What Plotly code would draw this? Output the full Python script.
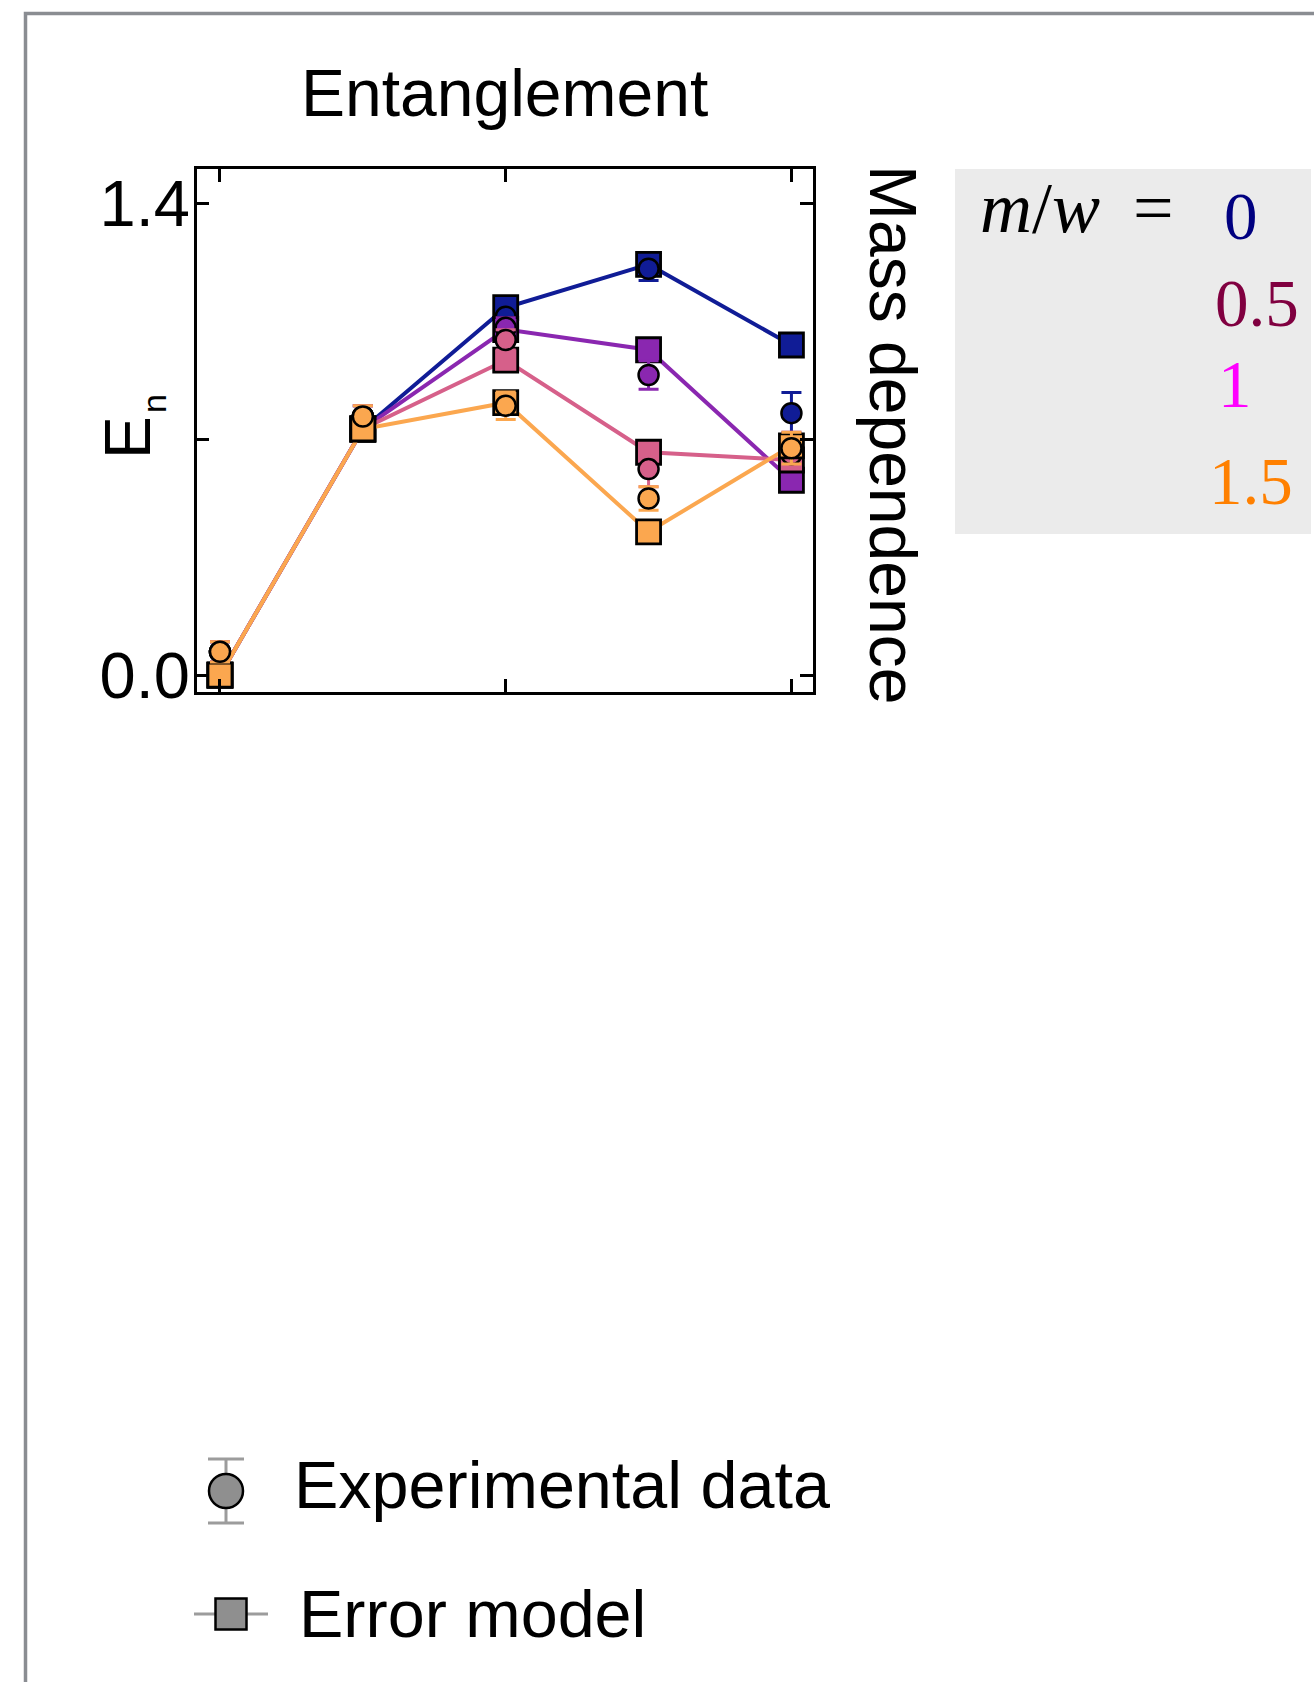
import plotly.graph_objects as go

# ---------------------------------------------------------------- data
steps = [1, 2, 3, 4, 5]
mass_labels = ["0", "0.5", "1", "1.5"]

# error-model curves (squares joined by lines)
model_m0 = [0.0, 0.73, 1.09, 1.218, 0.979]
model_m05 = [0.0, 0.73, 1.025, 0.965, 0.578]
model_m1 = [0.0, 0.73, 0.934, 0.661, 0.638]
model_m15 = [0.0, 0.73, 0.808, 0.425, 0.680]

# experimental points (circles) and their uncertainties
exp_m0 = [0.069, 0.767, 1.063, 1.205, 0.777]
exp_m05 = [0.069, 0.767, 1.030, 0.890, 0.690]
exp_m1 = [0.069, 0.767, 0.994, 0.611, 0.655]
exp_m15 = [0.069, 0.767, 0.799, 0.524, 0.673]

err_m0 = [0.030, 0.032, 0.030, 0.035, 0.061]
err_m05 = [0.030, 0.032, 0.030, 0.042, 0.030]
err_m1 = [0.030, 0.032, 0.030, 0.052, 0.030]
err_m15 = [0.030, 0.032, 0.041, 0.035, 0.047]

# ---------------------------------------------------------------- styles
W, H = 1314, 1682
SANS = "Liberation Sans"
SERIF = "Liberation Serif"

series_colors = ["#101C96", "#8A27B0", "#D6608A", "#FBA74F"]
label_colors = ["#000080", "#800040", "#FF00FF", "#FF8000"]

models = [model_m0, model_m05, model_m1, model_m15]
exps = [exp_m0, exp_m05, exp_m1, exp_m15]
errs = [err_m0, err_m05, err_m1, err_m15]


def px(x):
    return x / W


def py(y):
    return 1 - y / H


fig = go.Figure()

for color, model, exp, err in zip(series_colors, models, exps, errs):
    fig.add_trace(go.Scatter(
        x=steps, y=model, mode="lines+markers",
        line=dict(color=color, width=4),
        marker=dict(symbol="square", size=24, color=color,
                    line=dict(color="black", width=2.8)),
        showlegend=False, hoverinfo="skip",
    ))
    fig.add_trace(go.Scatter(
        x=steps, y=exp, mode="markers",
        marker=dict(symbol="circle", size=20, color=color,
                    line=dict(color="black", width=2.5)),
        error_y=dict(type="data", array=err, visible=True,
                     color=color, thickness=3, width=10),
        showlegend=False, hoverinfo="skip",
    ))

# key glyphs drawn on a pixel-scaled helper axis pair
KEY_CIRCLE = (226, 1491)
KEY_SQUARE = (231, 1614)
KEY_LINE = (194, 268)
key_gray = "#8F8F8F"
bar_gray = "#9C9C9C"

fig.add_trace(go.Scatter(
    x=[KEY_CIRCLE[0]], y=[KEY_CIRCLE[1]], mode="markers",
    xaxis="x2", yaxis="y2",
    marker=dict(symbol="circle", size=34, color=key_gray,
                line=dict(color="black", width=2.5)),
    error_y=dict(type="constant", value=32, color=bar_gray,
                 thickness=3, width=18),
    showlegend=False, hoverinfo="skip",
))
fig.add_trace(go.Scatter(
    x=list(KEY_LINE), y=[KEY_SQUARE[1]] * 2, mode="lines",
    xaxis="x2", yaxis="y2",
    line=dict(color=bar_gray, width=3),
    showlegend=False, hoverinfo="skip",
))
fig.add_trace(go.Scatter(
    x=[KEY_SQUARE[0]], y=[KEY_SQUARE[1]], mode="markers",
    xaxis="x2", yaxis="y2",
    marker=dict(symbol="square", size=31, color=key_gray,
                line=dict(color="black", width=2.5)),
    showlegend=False, hoverinfo="skip",
))

axis_common = dict(
    showgrid=False, zeroline=False, showline=True, linecolor="black",
    linewidth=2.5, ticks="inside", ticklen=13, tickwidth=2.5,
    tickcolor="black", mirror="ticks", automargin=False,
)

fig.update_layout(
    width=W, height=H,
    margin=dict(l=0, r=0, t=0, b=0, pad=0, autoexpand=False),
    paper_bgcolor="white", plot_bgcolor="rgba(0,0,0,0)",
    xaxis=dict(domain=[px(196.7), px(813)], range=[0.837, 5.151],
               tickvals=[1, 3, 5], showticklabels=False, **axis_common),
    yaxis=dict(domain=[py(692), py(169)], range=[-0.05, 1.501],
               tickvals=[0, 0.7, 1.4], ticktext=["0.0", "", "1.4"],
               tickfont=dict(family=SANS, size=65, color="black"),
               ticklabelstandoff=-9, **axis_common),
    xaxis2=dict(domain=[0, 1], range=[0, W], visible=False,
                anchor="y2", automargin=False),
    yaxis2=dict(domain=[0, 1], range=[H, 0], visible=False,
                anchor="x2", automargin=False),
    showlegend=False,
)

shapes = [
    # page frame
    dict(type="rect", xref="paper", yref="paper",
         x0=px(25.5), x1=1.05, y0=-0.05, y1=py(13.5),
         line=dict(color="#8A8D92", width=3.5), fillcolor="rgba(0,0,0,0)",
         layer="below"),
    # mass legend panel
    dict(type="rect", xref="paper", yref="paper",
         x0=px(955), x1=px(1311), y0=py(534), y1=py(169),
         line=dict(width=0), fillcolor="#EBEBEB", layer="below"),
]
fig.update_layout(shapes=shapes)

ann = []


def text(x, y, s, size, family=SANS, color="black", xanchor="center",
         angle=0):
    ann.append(dict(x=px(x), y=py(y), xref="paper", yref="paper", text=s,
                    showarrow=False, xanchor=xanchor, yanchor="middle",
                    textangle=angle,
                    font=dict(family=family, size=size, color=color)))


text(504, 93, "Entanglement", 66)
# axis label E_n, letter and subscript set separately
text(128, 438, "E", 64, angle=-90)
text(154, 404, "n", 34, angle=-90)
text(893, 434, "Mass dependence", 66, angle=90)

text(978, 208, "<i>m</i>/<i>w</i>", 72, family=SERIF, xanchor="left")
text(1153, 208, "=", 72, family=SERIF)
label_pos = [(1241, 216), (1257, 303), (1235, 384), (1251, 481)]
for lab, col, (lx, ly) in zip(mass_labels, label_colors, label_pos):
    text(lx, ly, lab, 67, family=SERIF, color=col)

text(292, 1485, "Experimental data", 66.5, xanchor="left")
text(297, 1614, "Error model", 66.5, xanchor="left")

fig.update_layout(annotations=ann)

fig.write_html("out.html")
